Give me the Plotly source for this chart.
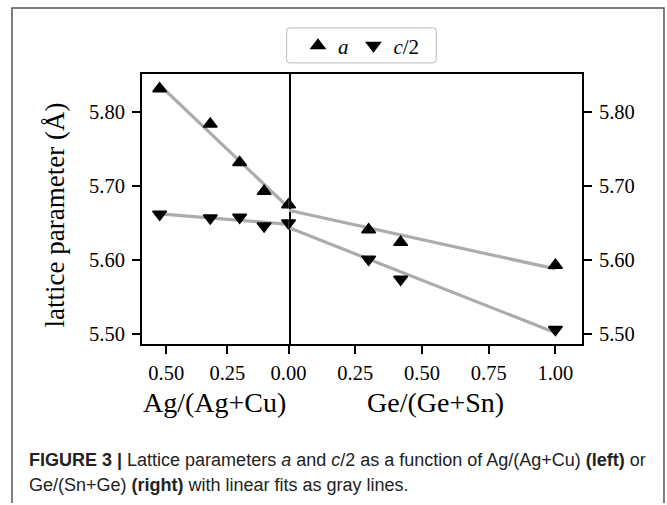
import numpy as np
import plotly.graph_objects as go

# ---------------- data ----------------
ag_x = [0.527, 0.32, 0.20, 0.10, 0.0]          # Ag/(Ag+Cu)
ag_a = [5.832, 5.784, 5.732, 5.693, 5.675]
ag_c2 = [5.662, 5.657, 5.658, 5.646, 5.650]

ge_x = [0.0, 0.30, 0.42, 1.00]                 # Ge/(Ge+Sn)
ge_a = [5.675, 5.641, 5.624, 5.593]
ge_c2 = [5.650, 5.601, 5.574, 5.506]

left_ticks = [0.50, 0.25, 0.00]
right_ticks = [0.25, 0.50, 0.75, 1.00]
y_ticks = [5.50, 5.60, 5.70, 5.80]

series_names = ["<i>a</i>", "<i>c</i>/2"]
x_title_left = "Ag/(Ag+Cu)"
x_title_right = "Ge/(Ge+Sn)"
y_title = "lattice parameter (Å)"
caption_1 = ("<b>FIGURE 3 |</b> Lattice parameters <i>a</i> and <i>c</i>/2 as a function of "
             "Ag/(Ag+Cu) <b>(left)</b> or")
caption_2 = "Ge/(Sn+Ge) <b>(right)</b> with linear fits as gray lines."

# ---------------- style ----------------
W, H = 667, 505
PW = 650          # effective paper width observed in the rendered page
SERIF = "Liberation Serif, DejaVu Serif, serif"
SANS = "Liberation Sans, Arial, sans-serif"
FIT_COLOR = "rgb(172,172,172)"


def px(x):
    return x / PW


def py(y):
    return (H - y) / H


x_left_dom = [px(142), px(289)]
x_right_dom = [px(289), px(583)]
y_dom = [py(345), py(74)]
y_range = [5.486, 5.852]


def fit_line(xs, ys):
    k, b = np.polyfit(xs, ys, 1)
    xf = np.array([min(xs), max(xs)])
    return xf, k * xf + b


fig = go.Figure()

# linear fits (gray)
for xs, ys, xa, ya in [(ag_x, ag_a, "x", "y"), (ag_x, ag_c2, "x", "y"),
                       (ge_x, ge_a, "x2", "y2"), (ge_x, ge_c2, "x2", "y2")]:
    xf, yf = fit_line(xs, ys)
    fig.add_trace(go.Scatter(x=xf, y=yf, mode="lines", xaxis=xa, yaxis=ya,
                             line=dict(color=FIT_COLOR, width=3.2),
                             showlegend=False, hoverinfo="skip"))

# markers
symbols = ["triangle-up", "triangle-down"]
for i, (ys_l, ys_r) in enumerate([(ag_a, ge_a), (ag_c2, ge_c2)]):
    mk = dict(symbol=symbols[i], size=12, color="black",
              line=dict(color="black", width=1.5))
    fig.add_trace(go.Scatter(x=ag_x, y=ys_l, mode="markers", xaxis="x", yaxis="y",
                             marker=mk, name=series_names[i], showlegend=True,
                             legendgroup=str(i)))
    fig.add_trace(go.Scatter(x=ge_x, y=ys_r, mode="markers", xaxis="x2", yaxis="y2",
                             marker=mk, name=series_names[i], showlegend=False,
                             legendgroup=str(i)))

axis_common = dict(showgrid=False, zeroline=False, showline=True, linecolor="black",
                   linewidth=1.5, ticks="outside", ticklen=8,
                   tickwidth=1.5, tickcolor="black",
                   tickfont=dict(family=SERIF, size=20.5, color="black"),
                   tickformat=".2f")

fig.update_layout(
    width=W, height=H, autosize=False,
    margin=dict(l=0, r=0, t=0, b=0),
    paper_bgcolor="white", plot_bgcolor="white",
    xaxis=dict(axis_common, domain=x_left_dom, range=[0.6, 0.0], anchor="y",
               mirror=True, tickvals=left_ticks, ticklabelstandoff=1),
    xaxis2=dict(axis_common, domain=x_right_dom, range=[0.0, 1.1], anchor="y2",
                mirror=True, tickvals=right_ticks, ticklabelstandoff=1),
    yaxis=dict(axis_common, domain=y_dom, range=y_range, anchor="x",
               mirror=True, tickvals=y_ticks, ticklabelstandoff=3),
    yaxis2=dict(axis_common, domain=y_dom, range=y_range, anchor="x2", side="right",
                mirror=False, matches="y", tickvals=y_ticks, ticklabelstandoff=3),
    legend=dict(orientation="h", x=px(362), y=py(46), xanchor="center",
                yanchor="middle", bgcolor="rgba(0,0,0,0)", borderwidth=0,
                font=dict(family=SERIF, size=21, color="black")),
    showlegend=True,
)

# axis titles
fig.add_annotation(text=y_title, x=px(55), y=py(215), xref="paper", yref="paper",
                   showarrow=False, textangle=-90, xanchor="center", yanchor="middle",
                   font=dict(family=SERIF, size=27, color="black"))
fig.add_annotation(text=x_title_left, x=px(215), y=py(403), xref="paper", yref="paper",
                   showarrow=False, xanchor="center", yanchor="middle",
                   font=dict(family=SERIF, size=28, color="black"))
fig.add_annotation(text=x_title_right, x=px(436), y=py(403), xref="paper", yref="paper",
                   showarrow=False, xanchor="center", yanchor="middle",
                   font=dict(family=SERIF, size=28, color="black"))

# caption
fig.add_annotation(text=caption_1, x=px(27), y=py(461), xref="paper", yref="paper",
                   showarrow=False, xanchor="left", yanchor="middle", align="left",
                   font=dict(family=SANS, size=18, color="#222"))
fig.add_annotation(text=caption_2, x=px(27), y=py(486), xref="paper", yref="paper",
                   showarrow=False, xanchor="left", yanchor="middle", align="left",
                   font=dict(family=SANS, size=18, color="#222"))


# rounded legend box
def rounded_rect(x0, y0, x1, y1, r):
    return (f"M {px(x0 + r)},{py(y0)} L {px(x1 - r)},{py(y0)} "
            f"Q {px(x1)},{py(y0)} {px(x1)},{py(y0 + r)} "
            f"L {px(x1)},{py(y1 - r)} Q {px(x1)},{py(y1)} {px(x1 - r)},{py(y1)} "
            f"L {px(x0 + r)},{py(y1)} Q {px(x0)},{py(y1)} {px(x0)},{py(y1 - r)} "
            f"L {px(x0)},{py(y0 + r)} Q {px(x0)},{py(y0)} {px(x0 + r)},{py(y0)} Z")


fig.add_shape(type="path", path=rounded_rect(287, 28, 437, 63, 4), xref="paper",
              yref="paper", line=dict(color="rgb(204,204,204)", width=1.3),
              fillcolor="rgba(255,255,255,0.8)", layer="below")

# outer figure frame (open at the bottom)
frame_path = (f"M {px(12)},{py(H - 1)} L {px(12)},{py(8)} "
              f"L {px(665)},{py(8)} L {px(665)},{py(H - 1)}")
fig.add_shape(type="path", path=frame_path, xref="paper", yref="paper",
              line=dict(color="#555", width=1.5), fillcolor="rgba(0,0,0,0)")

fig.write_html("out.html", config={"responsive": False})
